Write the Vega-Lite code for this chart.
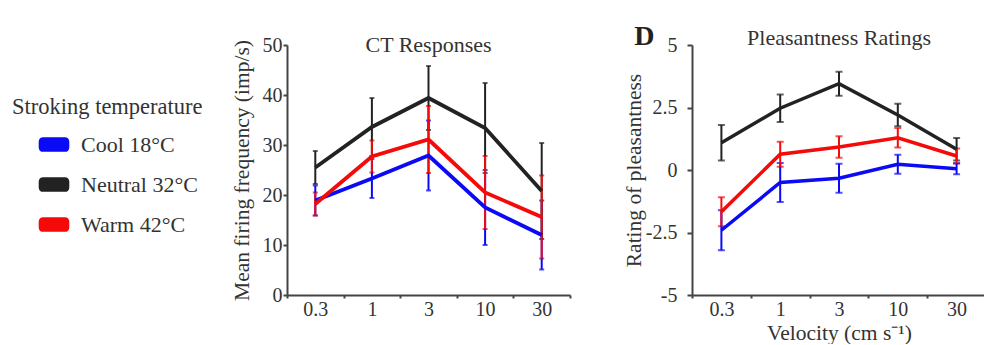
{
  "$schema": "https://vega.github.io/schema/vega-lite/v6.json",
  "padding": {"left": 12, "top": 23, "right": 0, "bottom": 0},
  "background": "white",
  "spacing": 52,
  "config": {
    "font": "Liberation Serif",
    "view": {"stroke": null},
    "style": {"guide-label": {"font": "Liberation Serif"}, "guide-title": {"font": "Liberation Serif"}},
    "axis": {
      "labelFont": "Liberation Serif", "titleFont": "Liberation Serif",
      "labelColor": "#333", "titleColor": "#333",
      "domainColor": "#444", "tickColor": "#444",
      "domainWidth": 2, "tickWidth": 2, "grid": false,
      "labelFontSize": 20, "titleFontSize": 21.5, "titleFontWeight": "normal"
    },
    "legend": {"labelFont": "Liberation Serif", "titleFont": "Liberation Serif"},
    "title": {"font": "Liberation Serif", "fontSize": 22, "fontWeight": "normal", "color": "#333"}
  },
  "data": {"values": [
    {"v": "0.3", "temp": "Cool 18°C", "fr": 18.9, "frErr": 3.0, "pl": -2.41, "plErr": 0.8},
    {"v": "1", "temp": "Cool 18°C", "fr": 23.3, "frErr": 3.9, "pl": -0.5, "plErr": 0.78},
    {"v": "3", "temp": "Cool 18°C", "fr": 27.9, "frErr": 7.0, "pl": -0.33, "plErr": 0.58},
    {"v": "10", "temp": "Cool 18°C", "fr": 17.5, "frErr": 7.5, "pl": 0.23, "plErr": 0.38},
    {"v": "30", "temp": "Cool 18°C", "fr": 12.0, "frErr": 6.9, "pl": 0.05, "plErr": 0.22},
    {"v": "0.3", "temp": "Neutral 32°C", "fr": 25.5, "frErr": 3.3, "pl": 1.09, "plErr": 0.71},
    {"v": "1", "temp": "Neutral 32°C", "fr": 33.6, "frErr": 5.8, "pl": 2.47, "plErr": 0.55},
    {"v": "3", "temp": "Neutral 32°C", "fr": 39.4, "frErr": 6.4, "pl": 3.45, "plErr": 0.48},
    {"v": "10", "temp": "Neutral 32°C", "fr": 33.4, "frErr": 9.0, "pl": 2.2, "plErr": 0.45},
    {"v": "30", "temp": "Neutral 32°C", "fr": 20.8, "frErr": 9.6, "pl": 0.83, "plErr": 0.45},
    {"v": "0.3", "temp": "Warm 42°C", "fr": 18.2, "frErr": 2.3, "pl": -1.67, "plErr": 0.58},
    {"v": "1", "temp": "Warm 42°C", "fr": 27.7, "frErr": 3.2, "pl": 0.63, "plErr": 0.5},
    {"v": "3", "temp": "Warm 42°C", "fr": 31.1, "frErr": 6.7, "pl": 0.92, "plErr": 0.43},
    {"v": "10", "temp": "Warm 42°C", "fr": 20.5, "frErr": 7.3, "pl": 1.29, "plErr": 0.39},
    {"v": "30", "temp": "Warm 42°C", "fr": 15.6, "frErr": 8.3, "pl": 0.56, "plErr": 0.3}
  ]},
  "hconcat": [
    {
      "width": 283, "height": 250,
      "title": {"text": "CT Responses", "offset": -22},
      "encoding": {
        "x": {"field": "v", "type": "ordinal", "sort": ["0.3", "1", "3", "10", "30"],
              "scale": {"type": "band", "paddingInner": 0, "paddingOuter": 0},
              "axis": {"title": null, "labelAngle": 0, "tickBand": "extent", "tickSize": 3, "labelPadding": 1, "labelFont": "Liberation Serif"}},
        "color": {"field": "temp", "type": "nominal",
                  "scale": {"domain": ["Cool 18°C", "Neutral 32°C", "Warm 42°C"], "range": ["#0a0af5", "#222222", "#f50a0a"]},
                  "legend": {"orient": "none", "legendX": -275, "legendY": 51, "title": "Stroking temperature",
                             "titleFontSize": 22.5, "labelFontSize": 22, "titleFont": "Liberation Serif", "labelFont": "Liberation Serif",
                             "titleColor": "#333", "labelColor": "#333", "titleFontWeight": "normal", "padding": 0,
                             "titleLimit": 400, "labelLimit": 300,
                             "symbolType": "M-0.8,-0.5 L0.8,-0.5 Q1.1,-0.5 1.1,-0.2 L1.1,0.2 Q1.1,0.5 0.8,0.5 L-0.8,0.5 Q-1.1,0.5 -1.1,0.2 L-1.1,-0.2 Q-1.1,-0.5 -0.8,-0.5 Z",
                             "symbolSize": 700, "symbolOffset": 28, "labelOffset": 13, "rowPadding": 15, "titlePadding": 12,
                             "encode": {"symbols": {"update": {"fill": {"scale": "color", "field": "value"}, "stroke": {"value": "transparent"}}},
                                        "labels": {"update": {"font": {"value": "Liberation Serif"}}}}}}
      },
      "layer": [
        {"mark": {"type": "errorbar", "ticks": true, "size": 5, "thickness": 2},
         "encoding": {
           "y": {"field": "fr", "type": "quantitative", "scale": {"domain": [0, 50]},
                 "axis": {"title": "Mean firing frequency (imp/s)", "values": [0, 10, 20, 30, 40, 50], "tickSize": 4, "labelPadding": 1, "titlePadding": 9, "labelFont": "Liberation Serif"}},
           "yError": {"field": "frErr"}}},
        {"mark": {"type": "line", "strokeWidth": 3.8},
         "encoding": {"y": {"field": "fr", "type": "quantitative"}}}
      ]
    },
    {
      "width": 294, "height": 250,
      "title": {"text": "Pleasantness Ratings", "offset": -27},
      "encoding": {
        "x": {"field": "v", "type": "ordinal", "sort": ["0.3", "1", "3", "10", "30"],
              "scale": {"type": "band", "paddingInner": 0, "paddingOuter": 0},
              "axis": {"title": "Velocity (cm s⁻¹)", "labelAngle": 0, "tickBand": "extent", "tickSize": 3, "labelPadding": 1, "titlePadding": 3, "labelFont": "Liberation Serif"}}
      },
      "layer": [
        {"mark": {"type": "errorbar", "ticks": true, "size": 7, "thickness": 2},
         "encoding": {
           "y": {"field": "pl", "type": "quantitative", "scale": {"domain": [-5, 5]},
                 "axis": {"title": "Rating of pleasantness", "values": [-5, -2.5, 0, 2.5, 5], "labelExpr": "datum.value + ''", "tickSize": 5, "labelPadding": 10, "titlePadding": 0, "labelFont": "Liberation Serif"}},
           "yError": {"field": "plErr"},
           "color": {"field": "temp", "type": "nominal"}}},
        {"mark": {"type": "line", "strokeWidth": 3.5},
         "encoding": {"y": {"field": "pl", "type": "quantitative"}, "color": {"field": "temp", "type": "nominal"}}},
        {"data": {"values": [{"lab": "D"}]},
         "mark": {"type": "text", "fontSize": 28, "fontWeight": "bold", "font": "Liberation Serif", "color": "#222", "dx": -77, "baseline": "alphabetic", "align": "center"},
         "encoding": {"x": {"datum": "0.3", "type": "ordinal"}, "y": {"datum": 5, "type": "quantitative"}, "text": {"field": "lab"}}}
      ]
    }
  ]
}
